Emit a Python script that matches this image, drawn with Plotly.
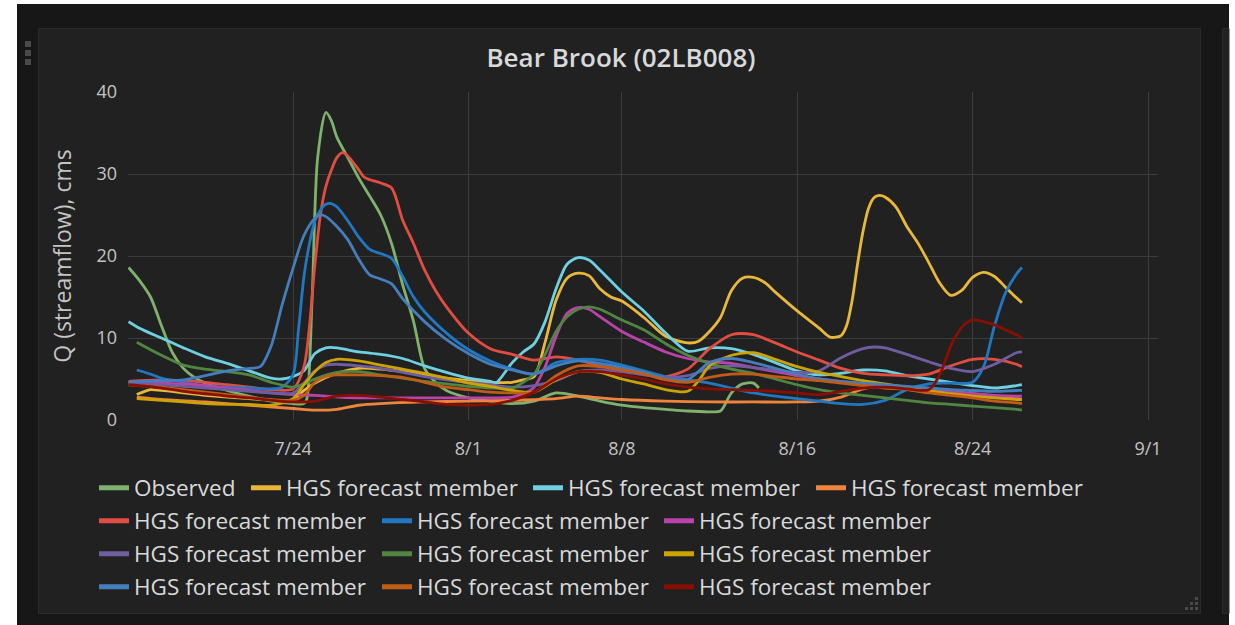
import plotly.graph_objects as go

YEAR = 2018


def stamp(s):
    """'7/24 12' -> '2018-07-24 12:00'"""
    d, h = s.split()
    m, day = d.split("/")
    return f"{YEAR}-{int(m):02d}-{int(day):02d} {int(h):02d}:00"


# ---------------------------------------------------------------- data
series_names = ["Observed"] + ["HGS forecast member"] * 12
series_colors = ["#7EB26D", "#EAB839", "#6ED0E0", "#EF843C", "#E24D42", "#1F78C1",
                 "#BA43A9", "#705DA0", "#508642", "#CCA300", "#447EBC", "#C15C17",
                 "#890F02"]

observed_t = ["7/16 12", "7/17 0", "7/17 12", "7/18 0", "7/18 12", "7/19 0", "7/19 12",
              "7/20 0", "7/21 0", "7/22 0", "7/23 0", "7/24 0", "7/24 12", "7/24 15",
              "7/24 21", "7/25 3", "7/25 12", "7/25 18", "7/26 0", "7/26 12", "7/27 0",
              "7/27 12", "7/28 0", "7/28 12", "7/29 0", "7/29 12", "7/30 0", "7/30 12",
              "7/31 0", "8/1 0", "8/2 0", "8/3 0", "8/4 0", "8/5 0", "8/6 0", "8/7 0",
              "8/8 0", "8/9 0", "8/10 0", "8/11 0", "8/12 0", "8/12 12", "8/13 0",
              "8/13 12", "8/14 0", "8/14 6"]
observed_q = [18.6, 17.0, 15.0, 11.5, 8.2, 6.3, 5.2,
              4.5, 3.6, 2.9, 2.3, 2.0, 2.0, 2.5,
              15.0, 32.0, 37.5, 36.5, 34.5, 32.0, 29.5,
              27.3, 25.0, 21.5, 16.5, 12.0, 6.3, 4.6,
              3.6, 2.7, 2.3, 2.0, 2.3, 3.3, 2.9, 2.3,
              1.8, 1.5, 1.3, 1.1, 1.0, 1.1, 3.3,
              4.4, 4.5, 3.9]

m01_t = ["7/16 21", "7/17 12", "7/18 0", "7/19 0", "7/20 0", "7/21 0", "7/22 0", "7/23 0",
         "7/24 0", "7/24 12", "7/25 0", "7/26 0", "7/27 0", "7/28 0", "7/29 0", "7/30 0",
         "7/31 0", "8/1 0", "8/2 0", "8/3 0", "8/3 12", "8/4 0", "8/4 12", "8/5 0",
         "8/5 12", "8/6 0", "8/6 12", "8/7 0", "8/7 12", "8/8 0", "8/9 0", "8/10 0",
         "8/11 0", "8/11 12", "8/12 0", "8/12 12", "8/13 0", "8/13 12", "8/14 0",
         "8/14 12", "8/15 0", "8/16 0", "8/17 0", "8/17 12", "8/18 0", "8/18 6",
         "8/18 12", "8/18 18", "8/19 0", "8/19 6", "8/19 12", "8/19 18", "8/20 0",
         "8/20 12", "8/21 0", "8/21 12", "8/22 0", "8/22 12", "8/23 0", "8/23 12",
         "8/24 0", "8/24 12", "8/25 0", "8/25 12", "8/26 0", "8/26 6"]
m01_q = [3.1, 3.7, 3.6, 3.3, 3.0, 2.8, 2.6, 2.4,
         2.5, 3.6, 4.5, 5.7, 6.3, 6.2, 5.9, 5.5,
         5.1, 4.8, 4.6, 4.6, 4.9, 5.3, 9.5, 14.6,
         17.3, 17.9, 17.6, 16.0, 15.0, 14.5, 12.5, 10.2,
         9.4, 9.6, 10.8, 12.5, 15.8, 17.3, 17.4,
         16.8, 15.6, 13.3, 11.2, 10.1, 10.3, 11.5,
         14.5, 19.0, 23.0, 25.8, 27.1, 27.4, 27.2,
         26.0, 23.6, 21.6, 19.2, 16.7, 15.2, 15.8,
         17.4, 18.0, 17.5, 16.2, 14.9, 14.3]

m02_t = ["7/16 12", "7/17 0", "7/18 0", "7/19 0", "7/20 0", "7/21 0", "7/22 0", "7/23 0",
         "7/23 12", "7/24 0", "7/24 12", "7/25 0", "7/25 12", "7/26 0", "7/27 0", "7/28 0",
         "7/29 0", "7/30 0", "7/31 0", "8/1 0", "8/2 0", "8/2 6", "8/3 0", "8/3 12",
         "8/4 0", "8/4 12", "8/5 0", "8/5 12", "8/6 0", "8/6 12", "8/7 0", "8/8 0",
         "8/9 0", "8/10 0", "8/11 0", "8/12 0", "8/13 0", "8/14 0", "8/15 0", "8/16 0",
         "8/17 0", "8/18 0", "8/19 0", "8/20 0", "8/21 0", "8/22 0", "8/23 0", "8/24 0",
         "8/25 0", "8/26 0", "8/26 6"]
m02_q = [12.0, 11.2, 10.0, 8.8, 7.7, 6.9, 6.0, 5.1,
         5.0, 5.3, 6.0, 8.1, 8.8, 8.8, 8.3, 8.0,
         7.5, 6.6, 5.8, 5.1, 4.7, 4.5, 7.0, 8.3,
         9.3, 12.0, 16.0, 19.0, 19.8, 19.5, 18.3, 15.6,
         13.3, 10.6, 8.4, 8.8, 8.7, 8.0, 7.0, 6.0,
         5.5, 5.7, 6.1, 6.0, 5.4, 5.0, 4.6, 4.2,
         3.9, 4.2, 4.3]

m03_t = ["7/16 21", "7/18 0", "7/20 0", "7/22 0", "7/24 0", "7/25 0", "7/26 0", "7/27 0",
         "7/28 0", "7/30 0", "8/1 0", "8/3 0", "8/5 0", "8/6 0", "8/7 0", "8/8 0",
         "8/10 0", "8/12 0", "8/14 0", "8/16 0", "8/17 0", "8/18 0", "8/19 0", "8/20 0",
         "8/21 0", "8/22 0", "8/23 0", "8/24 0", "8/25 0", "8/26 0", "8/26 6"]
m03_q = [2.8, 2.5, 2.2, 1.8, 1.4, 1.2, 1.3, 1.8,
         2.0, 2.2, 2.3, 2.4, 2.6, 2.9, 2.7, 2.5,
         2.3, 2.2, 2.2, 2.2, 2.3, 2.8, 3.8, 4.1,
         4.0, 3.8, 3.5, 3.2, 2.9, 2.6, 2.5]

m04_t = ["7/16 12", "7/17 0", "7/18 0", "7/19 0", "7/20 0", "7/21 0", "7/22 0", "7/23 0",
         "7/24 0", "7/24 12", "7/25 0", "7/25 6", "7/25 12", "7/25 18", "7/26 0", "7/26 6",
         "7/26 12", "7/27 0", "7/27 6", "7/27 12", "7/28 0", "7/28 12", "7/29 0",
         "7/29 12", "7/30 0", "7/30 12", "7/31 0", "8/1 0", "8/2 0", "8/3 0", "8/4 0",
         "8/5 0", "8/6 0", "8/7 0", "8/8 0", "8/9 0", "8/10 0", "8/11 0", "8/12 0",
         "8/13 0", "8/14 0", "8/15 0", "8/16 0", "8/17 0", "8/18 0", "8/19 0", "8/20 0",
         "8/21 0", "8/22 0", "8/23 0", "8/24 0", "8/25 0", "8/26 0", "8/26 6"]
m04_q = [4.7, 4.8, 4.9, 4.8, 4.6, 4.3, 4.0, 3.7,
         3.8, 6.5, 19.0, 25.0, 28.5, 30.5, 32.0, 32.6,
         32.2, 30.5, 29.6, 29.3, 28.9, 28.3, 24.4,
         21.5, 18.3, 15.8, 13.8, 10.6, 8.7, 8.0, 7.3,
         7.7, 7.3, 6.6, 6.2, 5.7, 5.3, 6.2, 8.7,
         10.4, 10.4, 9.4, 8.3, 7.3, 6.3, 5.7, 5.5,
         5.4, 5.6, 6.6, 7.4, 7.4, 6.8, 6.5]

m05_t = ["7/16 21", "7/17 12", "7/18 0", "7/19 0", "7/20 0", "7/21 0", "7/22 0", "7/23 0",
         "7/23 12", "7/24 0", "7/24 6", "7/24 12", "7/24 18", "7/25 0", "7/25 6",
         "7/25 12", "7/25 18", "7/26 0", "7/26 12", "7/27 0", "7/27 12", "7/28 0",
         "7/28 12", "7/29 0", "7/29 12", "7/30 0", "7/31 0", "8/1 0", "8/2 0", "8/3 0",
         "8/4 0", "8/5 0", "8/6 0", "8/7 0", "8/8 0", "8/9 0", "8/10 0", "8/11 0",
         "8/12 0", "8/13 0", "8/14 0", "8/15 0", "8/16 0", "8/17 0", "8/18 0", "8/19 0",
         "8/20 0", "8/21 0", "8/22 0", "8/23 0", "8/24 0", "8/24 12", "8/25 0",
         "8/25 12", "8/26 0", "8/26 6"]
m05_q = [6.1, 5.6, 5.1, 4.6, 4.2, 4.0, 3.9, 3.8,
         4.0, 5.5, 11.0, 17.5, 21.5, 24.3, 25.6,
         26.3, 26.4, 26.0, 24.3, 22.3, 20.8, 20.3,
         19.7, 17.5, 15.0, 13.2, 10.6, 8.6, 7.2, 6.2,
         5.6, 7.0, 7.4, 7.3, 6.7, 6.0, 5.3, 4.9,
         4.5, 3.9, 3.3, 2.9, 2.6, 2.3, 2.0, 1.9,
         2.4, 3.7, 4.4, 4.5, 4.6, 6.5, 11.5,
         15.5, 17.8, 18.6]

m06_t = ["7/16 12", "7/17 0", "7/18 0", "7/19 0", "7/20 0", "7/21 0", "7/22 0", "7/23 0",
         "7/24 0", "7/25 0", "7/26 0", "7/27 0", "7/28 0", "7/29 0", "7/30 0", "7/31 0",
         "8/1 0", "8/2 0", "8/3 0", "8/3 12", "8/4 0", "8/4 12", "8/5 0", "8/5 12",
         "8/6 0", "8/6 12", "8/7 0", "8/8 0", "8/9 0", "8/10 0", "8/11 0", "8/12 0",
         "8/13 0", "8/14 0", "8/15 0", "8/16 0", "8/17 0", "8/18 0", "8/19 0", "8/20 0",
         "8/21 0", "8/22 0", "8/23 0", "8/24 0", "8/25 0", "8/26 0", "8/26 6"]
m06_q = [4.6, 4.6, 4.5, 4.4, 4.2, 3.9, 3.6, 3.3,
         3.1, 3.0, 2.8, 2.7, 2.7, 2.7, 2.7, 2.7,
         2.7, 2.7, 2.8, 3.2, 4.0, 6.5, 10.2, 13.0,
         13.7, 13.5, 12.6, 10.8, 9.5, 8.3, 7.5, 7.1,
         6.9, 6.4, 5.9, 5.4, 5.0, 4.7, 4.4, 4.1,
         3.8, 3.6, 3.4, 3.2, 3.0, 2.9, 2.9]

m07_t = ["7/16 12", "7/17 0", "7/18 0", "7/19 0", "7/20 0", "7/21 0", "7/22 0", "7/23 0",
         "7/24 0", "7/24 12", "7/25 0", "7/25 12", "7/26 0", "7/27 0", "7/28 0", "7/29 0",
         "7/30 0", "7/31 0", "8/1 0", "8/2 0", "8/3 0", "8/4 0", "8/5 0", "8/6 0",
         "8/7 0", "8/8 0", "8/9 0", "8/10 0", "8/11 0", "8/12 0", "8/13 0", "8/14 0",
         "8/15 0", "8/16 0", "8/17 0", "8/18 0", "8/19 0", "8/19 12", "8/20 0", "8/21 0",
         "8/22 0", "8/23 0", "8/24 0", "8/25 0", "8/26 0", "8/26 6"]
m07_q = [4.4, 4.4, 4.3, 4.1, 3.9, 3.7, 3.5, 3.3,
         3.3, 4.5, 6.0, 6.7, 6.8, 6.6, 6.3, 5.8,
         5.3, 4.9, 4.6, 4.3, 4.0, 4.2, 4.8, 5.9,
         6.1, 5.9, 5.5, 5.2, 5.4, 6.3, 6.6, 6.4,
         6.1, 5.8, 6.0, 7.6, 8.7, 8.9, 8.8, 8.0,
         7.1, 6.3, 5.9, 6.8, 8.2, 8.3]

m08_t = ["7/16 21", "7/17 0", "7/18 0", "7/19 0", "7/20 0", "7/21 0", "7/22 0", "7/23 0",
         "7/24 0", "7/24 12", "7/25 0", "7/26 0", "7/27 0", "7/28 0", "7/29 0", "7/30 0",
         "7/31 0", "8/1 0", "8/2 0", "8/3 0", "8/3 12", "8/4 0", "8/4 12", "8/5 0",
         "8/5 12", "8/6 0", "8/6 12", "8/7 0", "8/8 0", "8/9 0", "8/10 0", "8/11 0",
         "8/12 0", "8/13 0", "8/14 0", "8/15 0", "8/16 0", "8/17 0", "8/18 0", "8/19 0",
         "8/20 0", "8/21 0", "8/22 0", "8/23 0", "8/24 0", "8/25 0", "8/26 0", "8/26 6"]
m08_q = [9.5, 9.3, 7.9, 6.7, 6.2, 5.9, 5.5, 4.6,
         4.0, 4.4, 5.0, 5.8, 5.9, 5.5, 5.1, 4.7,
         4.4, 4.1, 3.9, 3.9, 4.6, 5.6, 8.0, 10.8,
         12.6, 13.5, 13.8, 13.5, 12.2, 11.0, 9.3, 7.9,
         6.9, 6.2, 5.7, 5.0, 4.3, 3.7, 3.3, 3.0,
         2.7, 2.4, 2.1, 1.9, 1.7, 1.5, 1.3, 1.2]

m09_t = ["7/16 21", "7/18 0", "7/19 0", "7/20 0", "7/21 0", "7/22 0", "7/23 0", "7/24 0",
         "7/24 12", "7/25 0", "7/25 12", "7/26 0", "7/27 0", "7/28 0", "7/29 0", "7/30 0",
         "7/31 0", "8/1 0", "8/2 0", "8/3 0", "8/4 0", "8/5 0", "8/6 0", "8/7 0",
         "8/8 0", "8/9 0", "8/10 0", "8/11 0", "8/11 12", "8/12 0", "8/13 0", "8/14 0",
         "8/15 0", "8/16 0", "8/17 0", "8/18 0", "8/19 0", "8/20 0", "8/21 0", "8/22 0",
         "8/23 0", "8/24 0", "8/25 0", "8/26 0", "8/26 6"]
m09_q = [2.6, 2.4, 2.2, 2.0, 1.9, 1.9, 1.8, 2.6,
         4.3, 5.9, 7.0, 7.4, 7.2, 6.7, 6.2, 5.7,
         5.1, 4.5, 4.1, 3.6, 3.4, 4.9, 5.9, 5.8,
         5.0, 4.4, 3.7, 3.5, 4.8, 6.6, 7.9, 8.2,
         7.4, 6.5, 5.8, 5.3, 4.8, 4.4, 4.0, 3.6,
         3.2, 2.9, 2.7, 2.5, 2.5]

m10_t = ["7/16 12", "7/17 0", "7/18 0", "7/19 0", "7/20 0", "7/21 0", "7/22 0", "7/22 12",
         "7/23 0", "7/23 12", "7/24 0", "7/24 12", "7/25 0", "7/25 6", "7/25 12", "7/26 0",
         "7/26 12", "7/27 0", "7/27 12", "7/28 0", "7/28 12", "7/29 0", "7/30 0", "7/31 0",
         "8/1 0", "8/2 0", "8/3 0", "8/4 0", "8/5 0", "8/6 0", "8/7 0", "8/8 0",
         "8/9 0", "8/10 0", "8/11 0", "8/12 0", "8/13 0", "8/14 0", "8/15 0", "8/16 0",
         "8/17 0", "8/18 0", "8/19 0", "8/20 0", "8/21 0", "8/22 0", "8/23 0", "8/24 0",
         "8/25 0", "8/26 0", "8/26 6"]
m10_q = [4.6, 4.7, 4.8, 4.9, 5.4, 6.0, 6.3, 6.5,
         9.0, 14.0, 18.5, 22.5, 24.6, 25.0, 24.8, 23.6,
         22.0, 19.6, 17.7, 17.2, 16.6, 14.8, 12.0, 9.8,
         8.1, 6.8, 6.1, 5.6, 6.6, 7.2, 6.9, 6.4,
         5.8, 5.0, 4.9, 7.0, 7.5, 7.0, 6.3, 5.6,
         5.0, 4.7, 4.5, 4.3, 4.1, 3.9, 3.7, 3.6,
         3.5, 3.6, 3.6]

m11_t = ["7/16 12", "7/17 0", "7/18 0", "7/19 0", "7/20 0", "7/21 0", "7/22 0", "7/23 0",
         "7/24 0", "7/24 12", "7/25 0", "7/25 12", "7/26 0", "7/27 0", "7/28 0", "7/29 0",
         "7/30 0", "7/31 0", "8/1 0", "8/2 0", "8/3 0", "8/4 0", "8/5 0", "8/6 0",
         "8/7 0", "8/8 0", "8/9 0", "8/10 0", "8/11 0", "8/12 0", "8/13 0", "8/14 0",
         "8/15 0", "8/16 0", "8/17 0", "8/18 0", "8/19 0", "8/20 0", "8/21 0", "8/22 0",
         "8/23 0", "8/24 0", "8/25 0", "8/26 0", "8/26 6"]
m11_q = [4.3, 4.2, 4.0, 3.7, 3.4, 3.1, 2.8, 2.5,
         2.4, 3.0, 4.6, 5.3, 5.5, 5.5, 5.4, 5.2,
         4.6, 4.0, 3.7, 3.4, 3.3, 3.4, 5.4, 6.6,
         6.5, 6.1, 5.6, 4.9, 4.6, 5.2, 5.6, 5.6,
         5.3, 5.0, 4.8, 4.5, 4.2, 3.9, 3.7, 3.3,
         3.0, 2.7, 2.3, 2.1, 2.0]

m12_t = ["7/16 12", "7/17 0", "7/18 0", "7/19 0", "7/20 0", "7/21 0", "7/22 0", "7/23 0",
         "7/24 0", "7/25 0", "7/26 0", "7/27 0", "7/28 0", "7/29 0", "7/30 0", "7/31 0",
         "8/1 0", "8/2 0", "8/3 0", "8/4 0", "8/5 0", "8/6 0", "8/7 0", "8/8 0",
         "8/9 0", "8/10 0", "8/11 0", "8/12 0", "8/13 0", "8/14 0", "8/15 0", "8/16 0",
         "8/17 0", "8/18 0", "8/19 0", "8/20 0", "8/21 0", "8/22 0", "8/22 12", "8/23 0",
         "8/23 12", "8/24 0", "8/24 12", "8/25 0", "8/25 12", "8/26 0", "8/26 6"]
m12_q = [4.3, 4.2, 3.9, 3.5, 3.2, 2.9, 2.7, 2.4,
         2.2, 2.3, 2.9, 3.0, 2.8, 2.5, 2.2, 1.9,
         1.8, 1.9, 2.4, 3.4, 5.0, 5.9, 5.9, 5.5,
         5.0, 4.4, 4.0, 3.8, 3.7, 3.6, 3.5, 3.3,
         3.1, 3.5, 3.9, 4.0, 3.8, 3.7, 5.5, 9.0,
         11.3, 12.2, 12.0, 11.6, 11.0, 10.4, 10.0]

series_t = [observed_t, m01_t, m02_t, m03_t, m04_t, m05_t, m06_t,
            m07_t, m08_t, m09_t, m10_t, m11_t, m12_t]
series_q = [observed_q, m01_q, m02_q, m03_q, m04_q, m05_q, m06_q,
            m07_q, m08_q, m09_q, m10_q, m11_q, m12_q]

date_ticks = ["7/24", "8/1", "8/8", "8/16", "8/24", "9/1"]
q_ticks = [0, 10, 20, 30, 40]

# ---------------------------------------------------------------- page geometry (px)
W, H = 1235, 625
PL, PR, PT, PB = 128, 1158, 92, 420          # plot area edges


def fx(x):
    return (x - PL) / (PR - PL)


def fy(y):
    return (PB - y) / (PB - PT)


PAGE = "#171717"
PANEL = "#212121"
EDGE = "#2b2b2b"
TEXT = "#d8d9da"
TICK = "#c4c4c4"
GRID = "#3c3c3c"
FONT = "Open Sans"

legend_cols = [[103, 255, 537, 820], [103, 386, 668], [103, 386, 668], [103, 386, 668]]
legend_rows = [488, 521, 554, 587]

fig = go.Figure()

slots = [(r, c) for r, row in enumerate(legend_cols) for c in range(len(row))]
layout_legends = {}
for i, (name, color, ts, qs) in enumerate(zip(series_names, series_colors, series_t, series_q)):
    key = "legend" if i == 0 else f"legend{i + 1}"
    fig.add_trace(go.Scatter(
        x=[stamp(s) for s in ts], y=qs, name=name, mode="lines",
        line=dict(color=color, width=2.8, shape="spline", smoothing=0.8),
        legend=key, hoverinfo="x+y+name",
    ))
    r, c = slots[i]
    layout_legends[key] = dict(
        x=fx(legend_cols[r][c] - 9), y=fy(legend_rows[r]),
        xanchor="left", yanchor="middle", orientation="h",
        bgcolor="rgba(0,0,0,0)", borderwidth=0, itemsizing="constant",
        font=dict(family=FONT, size=22.5, color=TEXT),
    )

shapes = []


def rect(x0, y0, x1, y1, fill, line=None, layer="below"):
    shapes.append(dict(type="rect", xref="paper", yref="paper",
                       x0=fx(x0), x1=fx(x1), y0=fy(y1), y1=fy(y0),
                       fillcolor=fill, layer=layer,
                       line=dict(color=line or fill, width=1 if line else 0)))


# white page edges around the dashboard
rect(0, 0, 17, H, "#ffffff")
rect(0, 0, W, 4, "#ffffff")
rect(1229, 0, W, H, "#ffffff")
# panel and the neighbouring panel edge
rect(38.5, 28.5, 1200.5, 613.5, PANEL, EDGE)
rect(1222.5, 28.5, 1229, 613.5, PANEL, EDGE)
# drag handle
for yy in (41, 50, 59):
    rect(25, yy, 31, yy + 6, "#4a4a4a")
# resize handle
for (hx, hy) in [(1195, 597), (1190, 602), (1195, 602), (1185, 607), (1190, 607), (1195, 607)]:
    rect(hx, hy, hx + 3, hy + 3, "#4a4a4a")

fig.update_layout(
    width=W, height=H,
    margin=dict(l=PL, r=W - PR, t=PT, b=H - PB, autoexpand=False),
    paper_bgcolor=PAGE, plot_bgcolor=PANEL,
    font=dict(family=FONT, color=TEXT),
    title=dict(text="Bear Brook (02LB008)", x=621 / W, xref="container", xanchor="center",
               y=1 - 58 / H, yref="container", yanchor="middle",
               font=dict(family=FONT, size=26, weight=600, color=TEXT)),
    xaxis=dict(type="date", range=[f"{YEAR}-07-16 11:22", f"{YEAR}-09-01 10:57"],
               tickvals=[stamp(t + " 0") for t in date_ticks], ticktext=date_ticks,
               showgrid=True, gridcolor=GRID, gridwidth=1, zeroline=False, showline=False,
               ticks="", ticklabelstandoff=16,
               tickfont=dict(family=FONT, size=18, color=TICK)),
    yaxis=dict(range=[0, 40], tickvals=q_ticks, showgrid=True, gridcolor=GRID, gridwidth=1,
               zeroline=False, showline=False, ticks="", ticklabelstandoff=10,
               tickfont=dict(family=FONT, size=18, color=TICK),
               title=dict(text="Q (streamflow), cms", standoff=18,
                          font=dict(family=FONT, size=23, color=TICK))),
    shapes=shapes,
    showlegend=True,
    **layout_legends,
)

fig.write_html("out.html")
